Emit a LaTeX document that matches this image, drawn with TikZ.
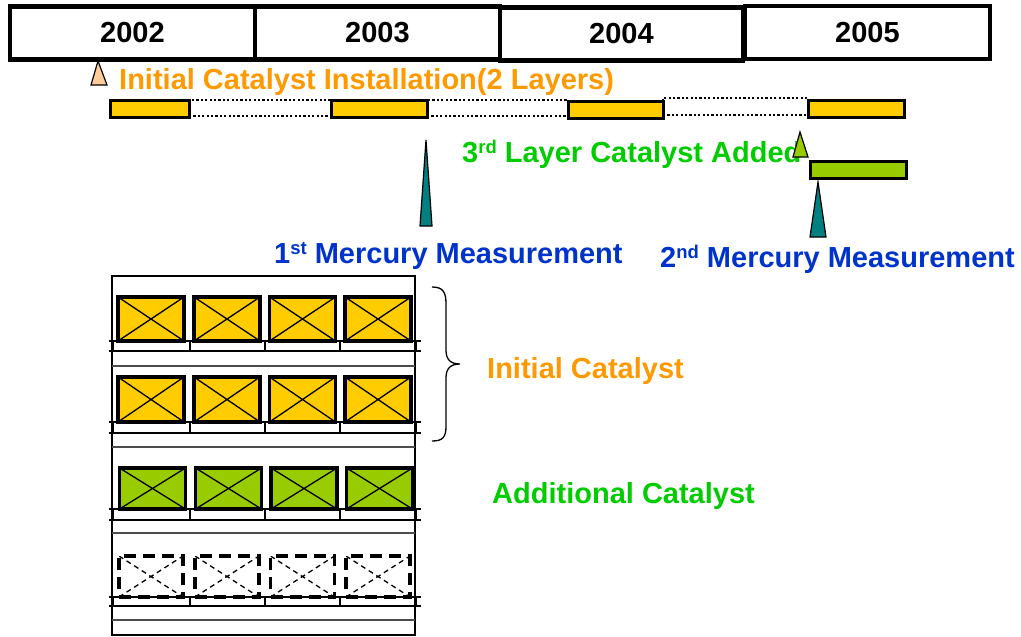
\documentclass[tikz,border=0pt]{standalone}
\usepackage{fontspec}
\setmainfont{Liberation Sans}
\definecolor{ctext}{HTML}{FF9900}
\definecolor{cyellow}{HTML}{FFCC00}
\definecolor{cpeach}{HTML}{FFCC99}
\definecolor{clime}{HTML}{99CC00}
\definecolor{cgreen}{HTML}{00CC00}
\definecolor{cblue}{HTML}{0033CC}
\definecolor{cteal}{HTML}{008080}
\newcommand\lbl{\fontsize{29}{34}\selectfont\bfseries}
\newcommand\sups[1]{\raisebox{8.5pt}{\fontsize{18.5}{18}\selectfont\bfseries #1}}
\begin{document}
\begin{tikzpicture}[x=1pt,y=-1pt,
  year/.style={draw, line width=4.5pt, inner sep=0pt, minimum height=53pt, font=\lbl},
  bar/.style={draw, fill=cyellow, line width=3pt, inner sep=0pt, minimum height=17pt},
  gap/.style={draw, line width=2.2pt, dash pattern=on 2.2pt off 2.2pt, inner sep=0pt, minimum height=16pt},
  label/.style={anchor=base west, inner sep=0pt, font=\lbl},
  marker/.style={draw=black, line width=1.2pt, line join=miter},
  cross/.style={path picture={\draw[line width=1.3pt]
      (path picture bounding box.south west) -- (path picture bounding box.north east)
      (path picture bounding box.north west) -- (path picture bounding box.south east);}},
  catbox/.style={draw, line width=3.8pt, inner sep=0pt, minimum width=66pt, cross},
  spare/.style={draw, line width=3.5pt, dash pattern=on 12pt off 7pt, inner sep=0pt, minimum width=64pt,
    path picture={\draw[line width=1.3pt, dash pattern=on 5pt off 4pt]
      (path picture bounding box.south west) -- (path picture bounding box.north east)
      (path picture bounding box.north west) -- (path picture bounding box.south east);}},
  rail/.style={line width=1.7pt},
  sepline/.style={line width=1.6pt, black!70},
  frame/.style={line width=1.8pt}]
\useasboundingbox (0,0) rectangle (1021,637);

% year header
\node[year, minimum width=245pt] (y2002) at (132.5,33) {2002};
\node[year, minimum width=245pt] (y2003) at (377.5,33) {2003};
\node[year, minimum width=243pt] (y2004) at (621.5,34) {2004};
\node[year, minimum width=245pt] (y2005) at (867.5,32.5) {2005};

% timeline of catalyst layers
\node[gap, minimum width=142pt] (g1) at (260,108) {};
\node[gap, minimum width=141pt] (g2) at (497.5,108) {};
\node[gap, minimum width=145pt, minimum height=17pt] (g3) at (735.5,106.5) {};
\node[bar, minimum width=79pt] (b1) at (149.5,108.5) {};
\node[bar, minimum width=96pt] (b2) at (379,108.5) {};
\node[bar, minimum width=95pt] (b3) at (615.5,109.5) {};
\node[bar, minimum width=96pt] (b4) at (856,108.5) {};
\node[bar, fill=clime, minimum width=96pt] (gb) at (858,169.5) {};

% event markers
\draw[marker, fill=cpeach] (98,61) -- (91,85) -- (107,85) -- cycle;
\draw[marker, fill=cteal] (426,140) -- (420,226) -- (432,226) -- cycle;
\draw[marker, fill=cteal] (818,182) -- (810,237) -- (826,237) -- cycle;

% labels
\node[label, text=ctext] (linit) at (119,89) {Initial Catalyst Installation(2 Layers)};
\node[label, text=cgreen] (ladd) at (462,162) {3\sups{rd} Layer Catalyst Added};
\draw[marker, fill=clime] (800,132) -- (793,157) -- (808,157) -- cycle;
\node[label, text=cblue] (lm1) at (274,263) {1\sups{st} Mercury Measurement};
\node[label, text=cblue] (lm2) at (660,267) {2\sups{nd} Mercury Measurement};
\node[label, text=ctext] (lic) at (487,378) {Initial Catalyst};
\node[label, text=cgreen] (lac) at (492,503) {Additional Catalyst};

% reactor frame
\draw[frame] (112,276) rectangle (415,635);

% catalyst layers
\foreach \c [count=\i] in {151,227,302.5,378}{
  \node[catbox, fill=cyellow, minimum height=44pt] (l1c\i) at (\c,319) {};
  \node[catbox, fill=cyellow, minimum height=45pt] (l2c\i) at (\c,399.5) {};
  \node[catbox, fill=clime, minimum height=41pt] (l3c\i) at (\c+1.5,488.5) {};
  \node[spare, minimum height=41pt] (l4c\i) at (\c,576.5) {};
}

% support rails with posts
\foreach \b/\rb/\s in {341/351/366, 422/433/447, 509/520/533, 597/606/620}{
  \draw[rail] (112,\b) -- (415,\b);
  \draw[rail] (110,\rb) -- (420,\rb);
  \foreach \p in {113,190,265,340,416}{
    \draw[rail] (\p,\b) -- (\p,\rb) (\p-4.5,\b) -- (\p+4.5,\b) (\p-4.5,\rb) -- (\p+4.5,\rb);
  }
  \draw[sepline] (112,\s) -- (415,\s);
}

% brace grouping the two initial layers
\draw[line width=1.3pt] (432,287) .. controls (443,287) and (446,292) .. (446,304)
  -- (446,350) .. controls (446,359) and (450,364) .. (460,364)
  .. controls (450,364) and (446,369) .. (446,378)
  -- (446,426) .. controls (446,437) and (443,441) .. (432,441);
\end{tikzpicture}
\end{document}
